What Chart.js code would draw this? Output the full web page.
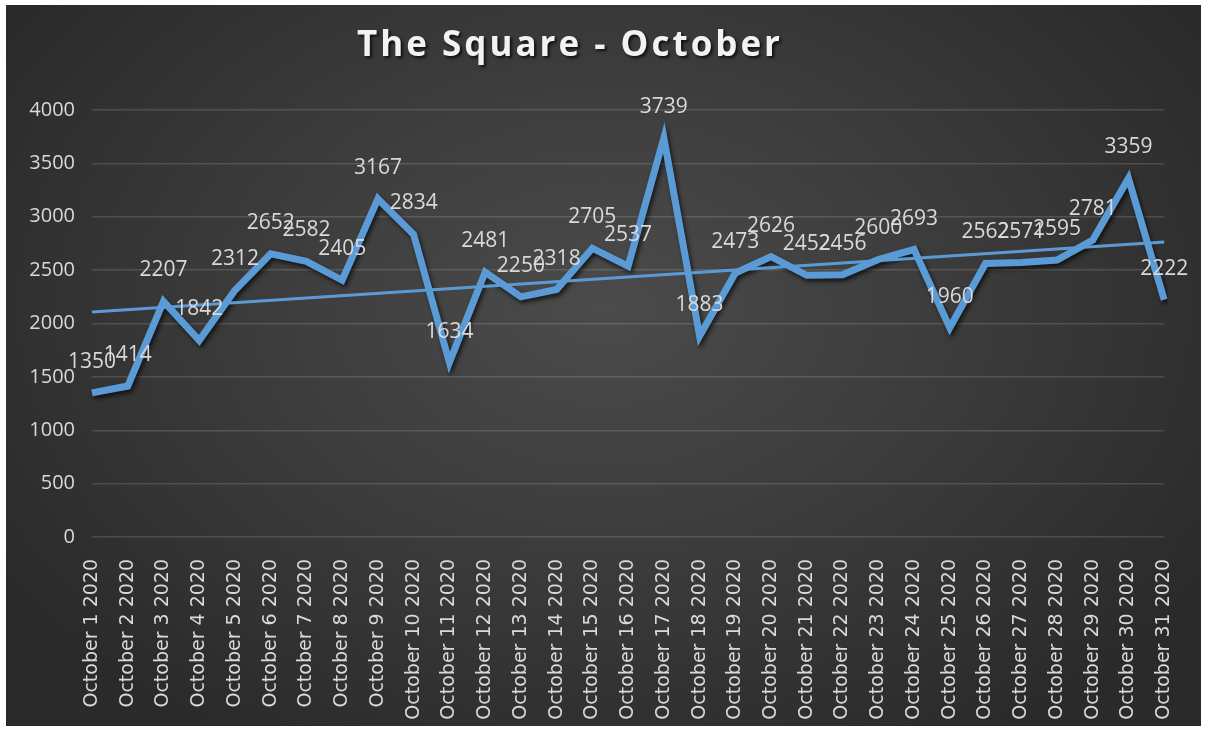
<!DOCTYPE html>
<html>
<head>
<meta charset="utf-8">
<script src="https://cdn.jsdelivr.net/npm/chart.js@4"></script>
<style>
  body { margin: 0; background: #fff; width: 1208px; height: 733px; position: relative; overflow: hidden; }
  #box {
    position: absolute; left: 6px; top: 5px; width: 1195px; height: 721px;
    background: radial-gradient(ellipse 60% 70% at 50% 42%, #4b4b4b 0%, #3d3d3d 45%, #2a2a2a 100%);
  }
  #title {
    position: absolute; left: 0; top: 20px; width: 1128px; text-align: center;
    font-family: "Open Sans", sans-serif; font-weight: bold; font-size: 35px; line-height: 35px;
    letter-spacing: 3px; color: #f2f2f2; text-shadow: 2px 2px 3px rgba(0,0,0,0.75);
  }
</style>
</head>
<body>
<div id="box">
  <canvas id="sales"></canvas>
  <div id="title">The Square - October</div>
</div>
<script>
const days = [
  'October 1 2020', 'October 2 2020', 'October 3 2020', 'October 4 2020', 'October 5 2020',
  'October 6 2020', 'October 7 2020', 'October 8 2020', 'October 9 2020', 'October 10 2020',
  'October 11 2020', 'October 12 2020', 'October 13 2020', 'October 14 2020', 'October 15 2020',
  'October 16 2020', 'October 17 2020', 'October 18 2020', 'October 19 2020', 'October 20 2020',
  'October 21 2020', 'October 22 2020', 'October 23 2020', 'October 24 2020', 'October 25 2020',
  'October 26 2020', 'October 27 2020', 'October 28 2020', 'October 29 2020', 'October 30 2020',
  'October 31 2020'
];
const visits = [
  1350, 1414, 2207, 1842, 2312, 2652, 2582, 2405, 3167, 2834,
  1634, 2481, 2250, 2318, 2705, 2537, 3739, 1883, 2473, 2626,
  2452, 2456, 2600, 2693, 1960, 2562, 2571, 2595, 2781, 3359,
  2222
];
// linear trend at first and last day
const trendValues = [2108, 2763];
const yTicks = [0, 500, 1000, 1500, 2000, 2500, 3000, 3500, 4000];

const blue = '#5b9bd5';
const textGrey = '#d9d9d9';

// shadow under the thick line
const lineShadow = {
  id: 'lineShadow',
  beforeDatasetDraw(chart, args) {
    if (args.index !== 0) return;
    const ctx = chart.ctx;
    ctx.save();
    ctx.shadowColor = 'rgba(0,0,0,0.65)';
    ctx.shadowBlur = 4;
    ctx.shadowOffsetX = 2;
    ctx.shadowOffsetY = 3;
  },
  afterDatasetDraw(chart, args) {
    if (args.index !== 0) return;
    chart.ctx.restore();
  }
};

// value labels above each point
const valueLabels = {
  id: 'valueLabels',
  afterDatasetsDraw(chart) {
    const ctx = chart.ctx;
    const meta = chart.getDatasetMeta(0);
    ctx.save();
    ctx.font = '21px "Open Sans"';
    ctx.fillStyle = textGrey;
    ctx.textAlign = 'center';
    ctx.textBaseline = 'middle';
    meta.data.forEach((pt, i) => {
      ctx.fillText(String(visits[i]), pt.x, pt.y - 31);
    });
    ctx.restore();
  }
};

new Chart(document.getElementById('sales'), {
  type: 'line',
  data: {
    labels: days,
    datasets: [
      {
        label: 'The Square',
        data: visits,
        borderColor: blue,
        backgroundColor: blue,
        borderWidth: 7,
        borderJoinStyle: 'miter',
        pointRadius: 0,
        tension: 0,
        fill: false,
        order: 2,
      },
      {
        label: 'Trend',
        data: [
          { x: days[0], y: trendValues[0] },
          { x: days[days.length - 1], y: trendValues[1] },
        ],
        borderColor: blue,
        borderWidth: 3,
        pointRadius: 0,
        tension: 0,
        fill: false,
        order: 1,
      },
    ]
  },
  options: {
    responsive: true,
    maintainAspectRatio: false,
    animation: false,
    layout: { padding: { top: 105, right: 21, left: 0, bottom: 0 } },
    plugins: {
      legend: { display: false },
      title: { display: false },
      tooltip: { enabled: false },
    },
    scales: {
      x: {
        grid: { display: false },
        border: { display: false },
        ticks: {
          color: textGrey,
          font: { family: 'DejaVu Sans', size: 19 },
          minRotation: 90,
          maxRotation: 90,
          autoSkip: false,
          padding: 14,
        },
        afterFit(scale) { scale.height = 189; },
      },
      y: {
        min: 0,
        max: 4000,
        grid: { color: 'rgba(255,255,255,0.14)', lineWidth: 1.5, drawTicks: false },
        border: { display: false },
        ticks: {
          color: textGrey,
          font: { family: 'Open Sans', size: 20 },
          padding: 17,
          callback: v => String(v),
        },
        afterBuildTicks(scale) { scale.ticks = yTicks.map(v => ({ value: v })); },
        afterFit(scale) { scale.width = 86; },
      },
    },
  },
  plugins: [lineShadow, valueLabels],
});
</script>
</body>
</html>
